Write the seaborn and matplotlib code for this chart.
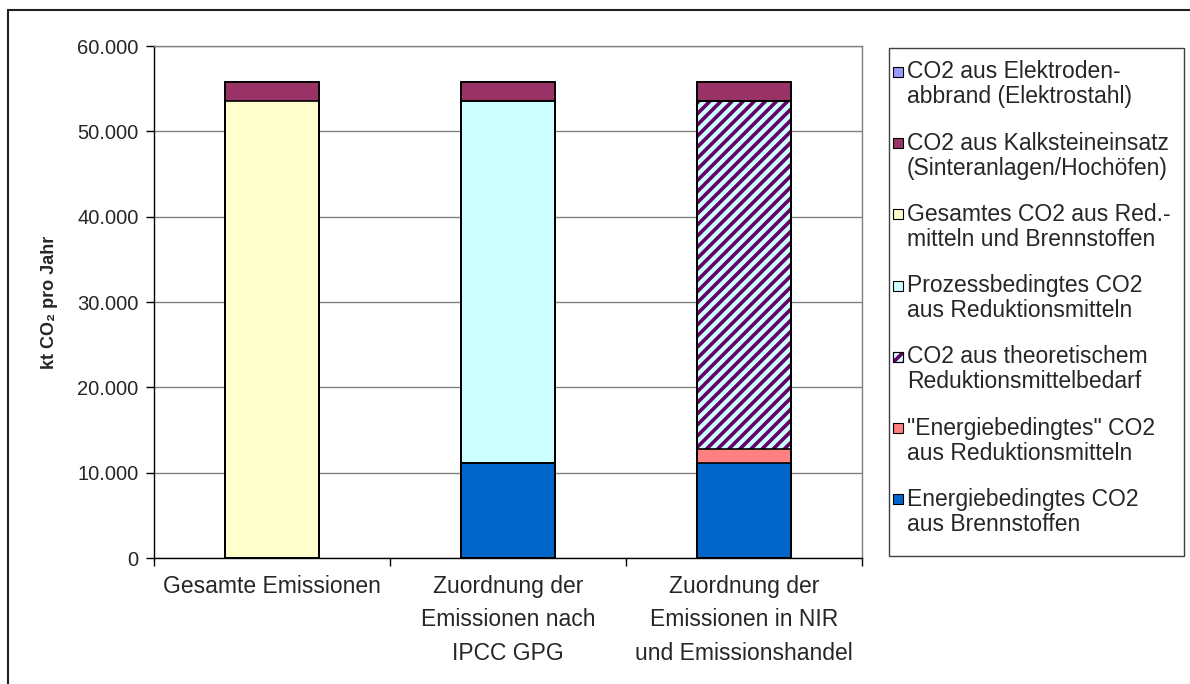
import matplotlib
matplotlib.use('Agg')
import matplotlib.pyplot as plt
import matplotlib.ticker as mticker
from matplotlib.patches import Rectangle
from matplotlib.lines import Line2D
import pandas as pd
import seaborn as sns

sns.set_theme(style="white")
plt.rcParams['font.family'] = ['Liberation Sans', 'DejaVu Sans']
plt.rcParams['hatch.linewidth'] = 2.6

# Daten (kt CO2 pro Jahr), Stapel von unten nach oben
kategorien = ['Gesamte Emissionen',
              'Zuordnung der\nEmissionen nach\nIPCC GPG',
              'Zuordnung der\nEmissionen in NIR\nund Emissionshandel']
energie_brennstoffe = [0, 11150, 11150]
energie_redmittel = [0, 0, 1650]
theoretisch = [0, 0, 40700]
prozess = [0, 42350, 0]
gesamt_red_brenn = [53500, 0, 0]
kalkstein = [2300, 2300, 2300]
elektroden = [0, 0, 0]

serien = ['energie_brennstoffe', 'energie_redmittel', 'theoretisch',
          'prozess', 'gesamt_red_brenn', 'kalkstein', 'elektroden']
labels = {
    'energie_brennstoffe': 'Energiebedingtes CO2\naus Brennstoffen',
    'energie_redmittel': '"Energiebedingtes" CO2\naus Reduktionsmitteln',
    'theoretisch': 'CO2 aus theoretischem\nReduktionsmittelbedarf',
    'prozess': 'Prozessbedingtes CO2\naus Reduktionsmitteln',
    'gesamt_red_brenn': 'Gesamtes CO2 aus Red.-\nmitteln und Brennstoffen',
    'kalkstein': 'CO2 aus Kalksteineinsatz\n(Sinteranlagen/Hochöfen)',
    'elektroden': 'CO2 aus Elektroden-\nabbrand (Elektrostahl)',
}
farben = {
    'energie_brennstoffe': '#0066CC',
    'energie_redmittel': '#FF8080',
    'theoretisch': '#CCFFFF',
    'prozess': '#CCFFFF',
    'gesamt_red_brenn': '#FFFFCC',
    'kalkstein': '#993366',
    'elektroden': '#9999FF',
}
schraffur_farbe = '#660066'

df = pd.DataFrame({
    'Kategorie': kategorien,
    'energie_brennstoffe': energie_brennstoffe,
    'energie_redmittel': energie_redmittel,
    'theoretisch': theoretisch,
    'prozess': prozess,
    'gesamt_red_brenn': gesamt_red_brenn,
    'kalkstein': kalkstein,
    'elektroden': elektroden,
})
kum = df[serien].cumsum(axis=1)
kum['Kategorie'] = df['Kategorie']

fig = plt.figure(figsize=(11.9, 6.84), dpi=100, facecolor='white')
ax = fig.add_axes([154 / 1190, 1 - 558 / 684, 708 / 1190, 512 / 684])

# gestapelte Balken: von oben nach unten übereinander zeichnen
for s in reversed(serien):
    sns.barplot(data=kum, x='Kategorie', y=s, color=farben[s], saturation=1,
                width=0.4, errorbar=None, linewidth=0, ax=ax)
    if s == 'theoretisch':
        for p in ax.containers[-1]:
            p.set_hatch('///')
            p.set_edgecolor(schraffur_farbe)
            p.set_linewidth(0)

# Umrandungen
for s in serien:
    sns.barplot(data=kum, x='Kategorie', y=s, color='black', fill=False,
                width=0.4, errorbar=None, linewidth=1.2, ax=ax)

ax.set_xlim(-0.5, 2.5)
ax.set_ylim(0, 60000)
ax.set_yticks(range(0, 60001, 10000))
ax.yaxis.set_major_formatter(mticker.FuncFormatter(lambda v, p: f'{v:,.0f}'.replace(',', '.')))
ax.yaxis.grid(True, color='#808080', linewidth=1)
ax.set_axisbelow(True)

ax.set_xticks([0, 1, 2])
ax.set_xticklabels(kategorien, fontsize=16.5, linespacing=1.6)
ax.set_xticks([-0.5, 0.5, 1.5, 2.5], minor=True)
ax.tick_params(axis='x', which='major', length=0, pad=12)
ax.tick_params(axis='x', which='minor', bottom=True, length=6, width=1, color='black')
ax.tick_params(axis='y', left=True, length=6, width=1, color='black', labelsize=14.5, pad=5)

ax.set_xlabel('')
ax.set_ylabel('kt CO₂ pro Jahr', fontsize=13, fontweight='bold')
ax.yaxis.set_label_coords(-0.135, 0.5)

for side in ['left', 'bottom']:
    ax.spines[side].set_color('black')
    ax.spines[side].set_linewidth(1)
for side in ['top', 'right']:
    ax.spines[side].set_color('#808080')
    ax.spines[side].set_linewidth(1)

# Legende (Excel-Stil)
W, H = 1190, 684
fig.patches.append(Rectangle((889 / W, 1 - 556 / H), 295 / W, 508 / H,
                             transform=fig.transFigure, facecolor='white',
                             edgecolor='#404040', linewidth=1))
for i, s in enumerate(reversed(serien)):
    y1 = 72 + i * 71.2
    hatch = '///' if s == 'theoretisch' else None
    sq = Rectangle((893 / W, 1 - (y1 + 5) / H), 10 / W, 10 / H,
                   transform=fig.transFigure, facecolor=farben[s],
                   edgecolor=schraffur_farbe if hatch else 'black',
                   hatch=hatch, linewidth=0.8)
    fig.patches.append(sq)
    if hatch:
        fig.patches.append(Rectangle((893 / W, 1 - (y1 + 5) / H), 10 / W, 10 / H,
                                     transform=fig.transFigure, fill=False,
                                     edgecolor='black', linewidth=0.8))
    for j, zeile in enumerate(labels[s].split('\n')):
        fig.text(907 / W, 1 - (y1 + j * 25) / H, zeile, fontsize=16.5,
                 ha='left', va='center')

# Rahmen der Grafik
fig.add_artist(Line2D([8 / W, 1], [1 - 10 / H, 1 - 10 / H], color='#202020', linewidth=1.5))
fig.add_artist(Line2D([8 / W, 8 / W], [0, 1 - 10 / H], color='#202020', linewidth=1.5))

fig.savefig('out.png', dpi=100, facecolor='white')
